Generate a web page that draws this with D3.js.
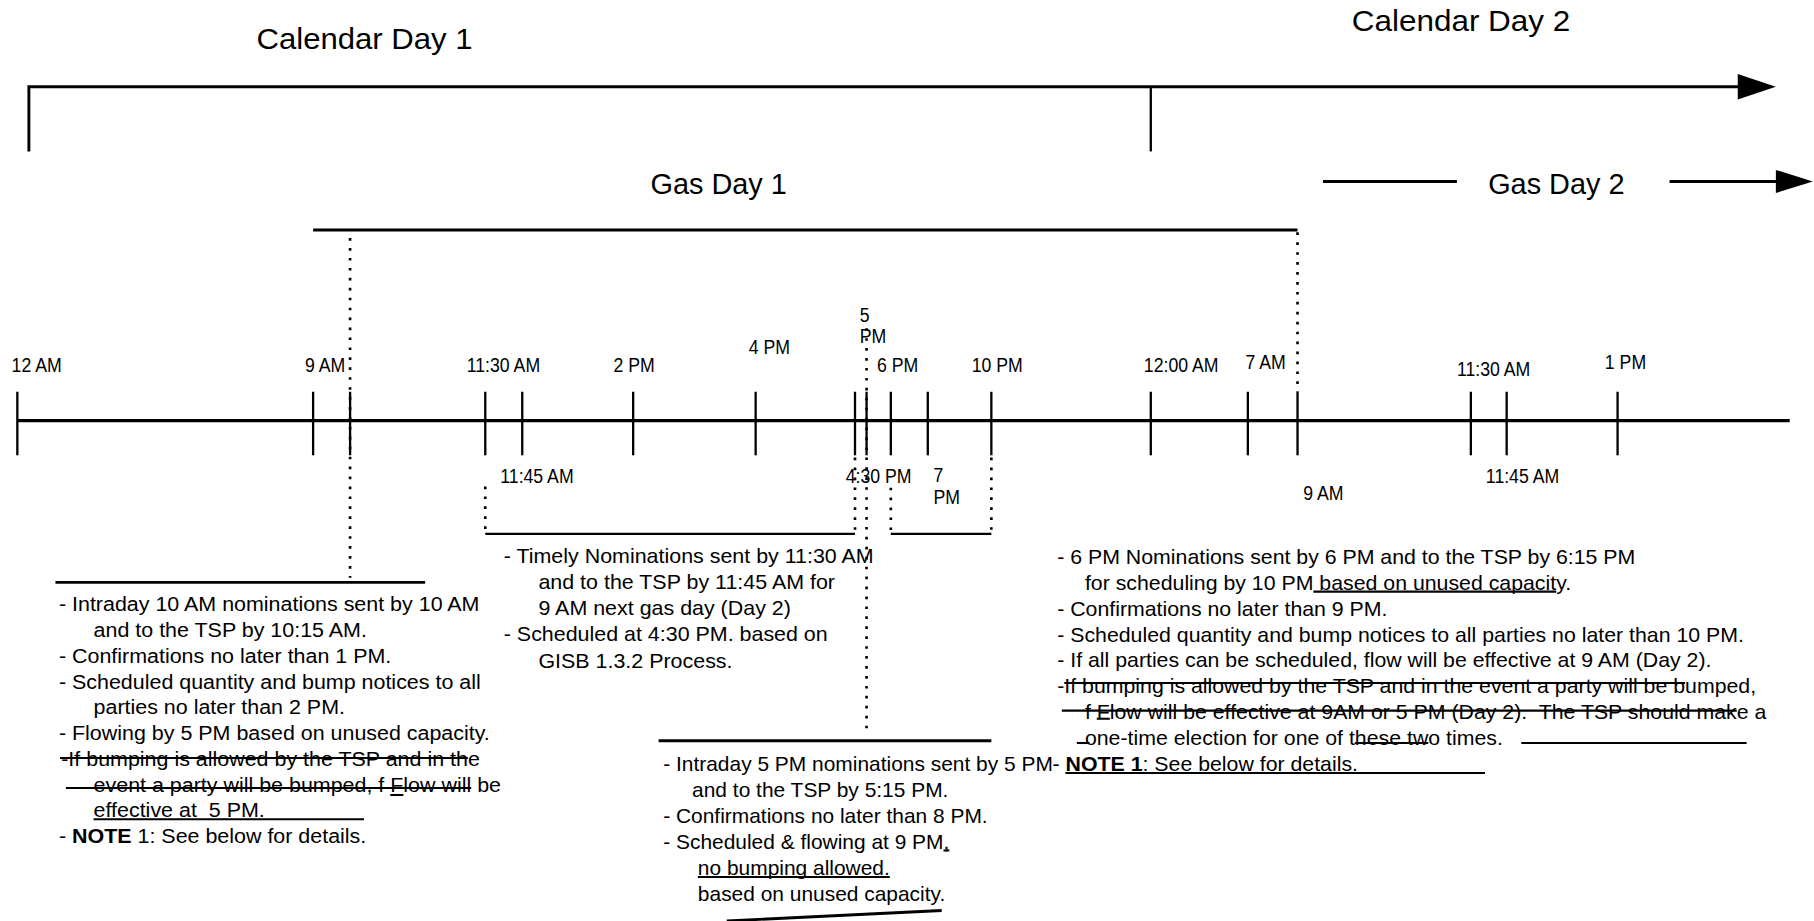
<!DOCTYPE html>
<html><head><meta charset="utf-8">
<script src="https://cdn.jsdelivr.net/npm/d3@7"></script>
<style>html,body{margin:0;padding:0;background:#fff;} text{white-space:pre;}</style>
</head><body>
<svg id="chart" width="1814" height="921" viewBox="0 0 1570 797"></svg>
<script>
// ---------- DATA ----------
const tickHours  = [0, 9, 10, 11.5, 11.75, 14, 16, 16.5, 17, 18, 19, 22, 24, 31, 33, 35.5, 35.75, 37];
const tickLabels = ["12 AM","9 AM","","11:30 AM","11:45 AM","2 PM","4 PM","4:30 PM","5\nPM","6 PM","7\nPM","10 PM","12:00 AM","7 AM","9 AM","11:30 AM","11:45 AM","1 PM"];
const tickSides  = ["above","above","none","above","below","above","above","below","above","above","below","above","above","above","below","above","below","above"];

const calendarDays = ["Calendar Day 1", "Calendar Day 2"];
const calendarBounds = [0, 24];
const gasDays = ["Gas Day 1", "Gas Day 2"];
const gasDayBounds = [9, 33];

const box1Lines = [
  "- Intraday 10 AM nominations sent by 10 AM",
  "and to the TSP by 10:15 AM.",
  "- Confirmations no later than 1 PM.",
  "- Scheduled quantity and bump notices to all",
  "parties no later than 2 PM.",
  "- Flowing by 5 PM based on unused capacity.",
  "-If bumping is allowed by the TSP and in the",
  "event a party will be bumped, f Flow will be",
  "effective at  5 PM.",
  "- **NOTE** 1: See below for details."
];
const box2Lines = [
  "- Timely Nominations sent by 11:30 AM",
  "and to the TSP by 11:45 AM for",
  "9 AM next gas day (Day 2)",
  "- Scheduled at 4:30 PM. based on",
  "GISB 1.3.2 Process."
];
const box3Lines = [
  "- Intraday 5 PM nominations sent by 5 PM",
  "and to the TSP by 5:15 PM.",
  "- Confirmations no later than 8 PM.",
  "- Scheduled & flowing at 9 PM,",
  "no bumping allowed.",
  "based on unused capacity."
];
const box4Lines = [
  "- 6 PM Nominations sent by 6 PM and to the TSP by 6:15 PM",
  "for scheduling by 10 PM based on unused capacity.",
  "- Confirmations no later than 9 PM.",
  "- Scheduled quantity and bump notices to all parties no later than 10 PM.",
  "- If all parties can be scheduled, flow will be effective at 9 AM (Day 2).",
  "-If bumping is allowed by the TSP and in the event a party will be bumped,",
  "f Flow will be effective at 9AM or 5 PM (Day 2).  The TSP should make a",
  "one-time election for one of these two times.",
  "- **NOTE 1**: See below for details."
];

// ---------- LAYOUT ----------
const FONT = "'Liberation Sans', Arial, Helvetica, sans-serif";
const svg = d3.select("#chart");
svg.append("rect").attr("width",1570).attr("height",797).attr("fill","#fff");

// schematic (non-proportional) time axis: polylinear scale
const tickPos = [15,271,303,420,452,548,654,740,750,771,803,858,996,1080,1123,1273,1304,1400];
const x = d3.scaleLinear().domain(tickHours).range(tickPos);
const axisY = 364;
// label offsets [dx, baseline, second-line gap]
const labelLayout = [[-5,322],[-7,322],[0,0],[-16,322],[-19,418],[-17,322],[-6,306],[-8,418],[-6,279,18],[-12,322],[5,417,19],[-17,322],[-6,322],[-2,319],[5,433],[-12,325],[-18,418],[-11,319]];

function dotted(x1,y1,x2,y2){
  svg.append("line").attr("x1",x1).attr("y1",y1).attr("x2",x2).attr("y2",y2)
    .attr("stroke","#000").attr("stroke-width",2.3).attr("stroke-dasharray","2.3,6.3");
}
function solid(x1,y1,x2,y2,w){
  svg.append("line").attr("x1",x1).attr("y1",y1).attr("x2",x2).attr("y2",y2)
    .attr("stroke","#000").attr("stroke-width",w||2);
}
function richText(parent, str){
  const t = parent.append("text").attr("font-family",FONT).attr("fill","#000");
  str.split(/(\*\*[^*]+\*\*)/).filter(s=>s.length).forEach(seg=>{
    if(seg.startsWith("**")) t.append("tspan").attr("font-weight","bold").text(seg.slice(2,-2));
    else t.append("tspan").text(seg);
  });
  return t;
}
function label(px, py, str, size, sx){
  const g = svg.append("g").attr("transform",`translate(${px},${py}) scale(${sx},1)`);
  const t = richText(g, str).attr("font-size",size);
  return {node:t.node(), px, py, sx, plain:str.replace(/\*\*/g,"")};
}
function fitLabel(px, py, str, size, targetW){
  const g = svg.append("g");
  const t = richText(g, str).attr("font-size",size);
  const sx = targetW / t.node().getComputedTextLength();
  g.attr("transform",`translate(${px},${py}) scale(${sx},1)`);
}

// ---------- Calendar days ----------
const cx = [25, x(calendarBounds[1])];
svg.append("path").attr("d",`M${cx[0]},131 V75 H1505`).attr("fill","none").attr("stroke","#000").attr("stroke-width",2.5);
solid(cx[1],75,cx[1],131,2);
svg.append("path").attr("d","M1504,64 L1537,75 L1504,86 Z").attr("fill","#000");
fitLabel(222, 42, calendarDays[0], 26, 187);
fitLabel(1170, 27, calendarDays[1], 26, 189);

// ---------- Gas days ----------
solid(x(gasDayBounds[0]),199,x(gasDayBounds[1]),199,2.5);
fitLabel(563, 168, gasDays[0], 25, 118);
fitLabel(1288, 168, gasDays[1], 25, 118);
solid(1145,157,1261,157,2.5);
solid(1445,157,1538,157,2.5);
svg.append("path").attr("d","M1537,147 L1569,157 L1537,167 Z").attr("fill","#000");

// ---------- Timeline axis ----------
solid(15,axisY,1549,axisY,3);
tickHours.forEach((h,i)=>{
  solid(x(h),339,x(h),394,2);
  if(tickSides[i]==="none") return;
  const [dx,by,gap] = labelLayout[i];
  tickLabels[i].split("\n").forEach((p,k)=>{
    label(x(h)+dx, by + k*(gap||0), p, 17, 0.9);
  });
});

// dotted reference lines
dotted(x(10),206,x(10),500);
dotted(x(17),284,x(17),636);
dotted(x(gasDayBounds[1]),201,x(gasDayBounds[1]),339);
// brackets below axis
dotted(x(11.5),421,x(11.5),461);
dotted(x(16.5),396,x(16.5),461);
solid(x(11.5),462,x(16.5),462,2);
dotted(x(18),422,x(18),461);
dotted(x(22),396,x(22),461);
solid(x(18),462,x(22),462,2);

// ---------- Text boxes ----------
function box(lines, dashX, indentX, y0, dy, size, targetIdx, targetW, special){
  const t0 = svg.append("text").attr("font-family",FONT).attr("font-size",size).text(lines[targetIdx].replace(/\*\*/g,""));
  const sx = targetW / t0.node().getComputedTextLength();
  t0.remove();
  return lines.map((ln,i)=>{
    let px = ln.startsWith("-") ? dashX : indentX;
    if(special && special[i]!==undefined) px = special[i];
    return label(px, y0 + i*dy, ln, size, sx);
  });
}
solid(48,504,368,504,2.5);
const b1 = box(box1Lines, 51, 81, 529, 22.3, 18, 0, 364, {6:53});
const b2 = box(box2Lines, 436, 466, 487, 22.7, 18, 0, 320);
solid(570,641,858,641,2.5);
const b3 = box(box3Lines, 574, 599, 667, 22.6, 18, 0, 337, {4:604,5:604});
svg.append("line").attr("x1",629).attr("y1",797).attr("x2",815).attr("y2",788).attr("stroke","#000").attr("stroke-width",2.5);
const b4 = box(box4Lines, 915, 939, 488, 22.4, 18, 3, 594, {8:911});

// ---------- Revision marks (strike-through / underline), tied to text ----------
function xAt(info, idx){ return info.px + (idx<=0 ? 0 : info.sx * info.node.getSubStringLength(0, idx)); }
function endX(info){ return info.px + info.sx * info.node.getComputedTextLength(); }
function markSub(info, sub, y, padL, padR){
  const s = info.plain.indexOf(sub);
  solid(xAt(info,s)-(padL||0), y, xAt(info,s+sub.length)+(padR||0), y, 1.8);
}
// box 1
markSub(b1[6], "-If bumping is allowed by the TSP and in th", 656, 1, 0);
markSub(b1[7], "event a party will be bumped, f Flow will", 682, 24, 0);
markSub(b1[7], "F", 688, 0, 0);
solid(b1[8].px, 709, b1[8].px+234, 709, 1.8);
// box 3
markSub(b3[3], ",", 736, 0, 0);
markSub(b3[4], "no bumping allowed.", 759, 0, 0);
// box 4
markSub(b4[1], " based on unused capacit", 512, 0, 0);
markSub(b4[5], "If bumping is allowed by the TSP and in the event a party will be b", 591, 0, 0);
markSub(b4[6], "f Flow will be effective at 9AM or 5 PM (Day 2).  The TSP should mak", 615, 20, 0);
markSub(b4[6], "F", 622, 0, 0);
solid(b4[7].px-7, 643, b4[7].px+4, 643, 1.8);
markSub(b4[7], "hese tw", 643, 0, 0);
solid(endX(b4[7])+16, 643, endX(b4[7])+211, 643, 1.8);
markSub(b4[8], "NOTE", 669, 0, 0);
solid(xAt(b4[8], b4[8].plain.indexOf("NOTE")), 669, xAt(b4[8], b4[8].plain.indexOf("NOTE"))+363, 669, 1.8);
</script>
</body></html>
